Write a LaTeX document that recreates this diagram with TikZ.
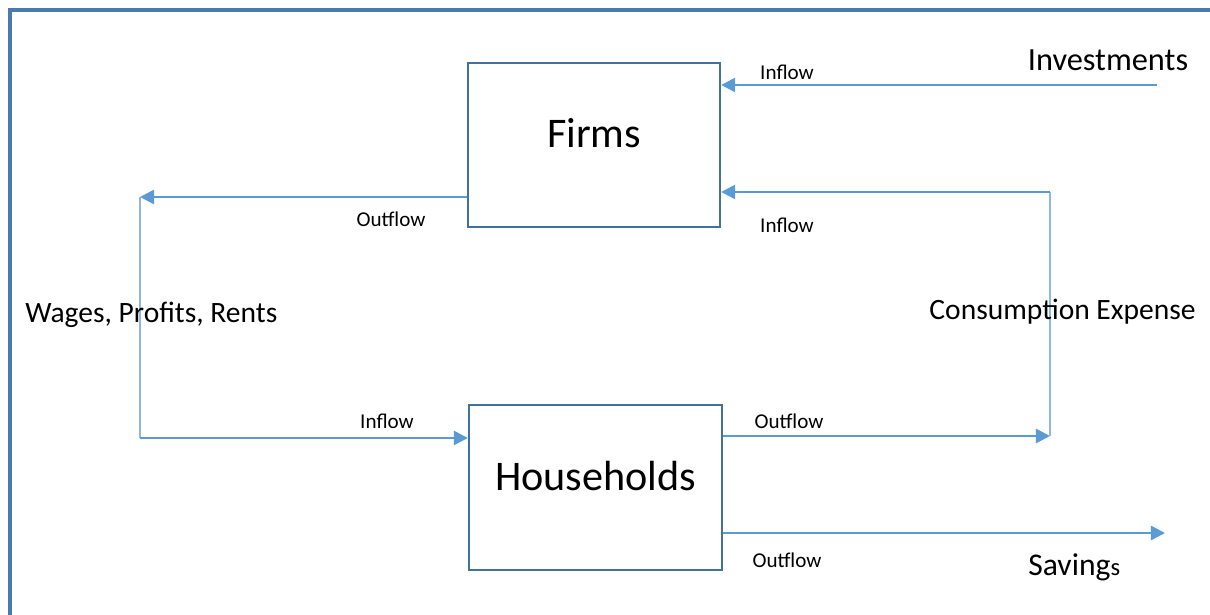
\documentclass[tikz,border=0pt]{standalone}
\usepackage{fontspec}
\setmainfont{Carlito}
\usetikzlibrary{arrows.meta}
\definecolor{flowblue}{HTML}{5B9BD5}
\definecolor{thinblue}{HTML}{8DB8E2}
\definecolor{boxblue}{HTML}{41719C}
\definecolor{framblue}{HTML}{4A7AB0}
\tikzset{
  sectorbox/.style={draw=boxblue, line width=1.6pt, inner sep=0pt, text depth=0.6cm, font=\fontsize{30}{36}\selectfont},
  flowarrow/.style={draw=flowblue, line width=1.8pt, -{Triangle[length=10pt,width=10pt]}},
  flowline/.style={draw=thinblue, line width=0.8pt},
  flowtag/.style={inner sep=0pt, font=\fontsize{15}{18}\selectfont},
  bigtag/.style={inner sep=0pt, font=\fontsize{21}{26}\selectfont}
}
\begin{document}
\begin{tikzpicture}[x=0.025cm, y=-0.025cm]
		%%%%% FRAME %%%%%
		\useasboundingbox (0,0) rectangle (1210,615);
		\draw[framblue, line width=2.2pt] (10,615) -- (10,10) -- (1210,10);
		
		%%%%% SECTORS %%%%%
		\node[sectorbox, minimum width=6.3cm, minimum height=4.1cm] (firms) at (594,145) {Firms};
		\node[sectorbox, minimum width=6.325cm, minimum height=4.125cm] (households) at (595.5,487.5) {Households};
		
		\coordinate (invS) at (1157,85);
		\coordinate (wageTop) at (140,197);
		\coordinate (wageBot) at (140,438);
		\coordinate (consTop) at (1050,192);
		\coordinate (consBot) at (1050,436);
		\coordinate (saveE) at (1165,533);
		
		%%%%% FLOWS %%%%%
		\draw[flowarrow] (invS) -- (firms.east |- invS);
		\draw[flowarrow] (firms.west |- wageTop) -- (wageTop);
		\draw[flowline] (wageTop) -- (wageBot);
		\draw[flowarrow] (wageBot) -- (households.west |- wageBot);
		\draw[flowarrow] (households.east |- consBot) -- (consBot);
		\draw[flowline] (consBot) -- (consTop);
		\draw[flowarrow] (consTop) -- (firms.east |- consTop);
		\draw[flowarrow] (households.east |- saveE) -- (saveE);
		
		%%%%% LABELS %%%%%
		\node[flowtag] (inInv) at (787,72) {Inflow};
		\node[flowtag] (inCons) at (787,225) {Inflow};
		\node[flowtag] (outWage) at (391,219) {Outflow};
		\node[flowtag] (inWage) at (387,421) {Inflow};
		\node[flowtag] (outCons) at (789,421) {Outflow};
		\node[flowtag] (outSave) at (787,560) {Outflow};
		\node[bigtag, font=\fontsize{23}{28}\selectfont] (invest) at (1108,60) {Investments};
		\node[bigtag, anchor=west] (wages) at (25,315) {Wages, Profits, Rents};
		\node[bigtag, anchor=east] (consum) at (1196,312) {Consumption Expense};
		\node[bigtag, anchor=west, font=\fontsize{22.5}{27}\selectfont] (saving) at (1028,567) {Saving{\fontsize{17.5}{20}\selectfont s}};
\end{tikzpicture}
\end{document}
